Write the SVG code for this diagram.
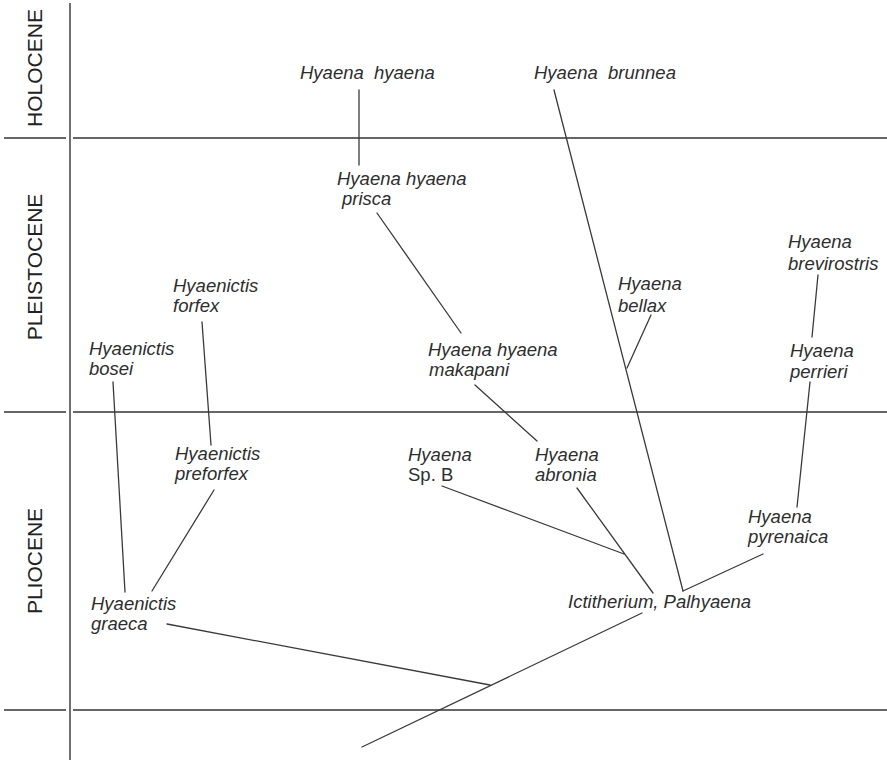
<svg xmlns="http://www.w3.org/2000/svg" width="887" height="760" viewBox="0 0 887 760">
<style>
.bg{fill:#ffffff}
.grid{stroke:#333;stroke-width:1.4;fill:none}
.con{stroke:#3a3a3a;stroke-width:1.3;fill:none;stroke-linecap:round}
.per{font-family:"Liberation Sans",Arial,sans-serif;font-size:21px;fill:#222;text-anchor:middle}
.lab{font-family:"Liberation Sans",Arial,sans-serif;font-size:18.5px;font-style:italic;fill:#2e2e2e;white-space:pre}
.up{font-style:normal}
</style>
<rect class="bg" x="0" y="0" width="887" height="760"/>
<g id="frame">
<line class="grid" x1="70" y1="3" x2="70" y2="760"/>
<line class="grid" x1="4" y1="138" x2="66" y2="138"/>
<line class="grid" x1="73" y1="138" x2="887" y2="138"/>
<line class="grid" x1="4" y1="412" x2="66" y2="412"/>
<line class="grid" x1="73" y1="412" x2="887" y2="412"/>
<line class="grid" x1="4" y1="710" x2="66" y2="710"/>
<line class="grid" x1="73" y1="710" x2="887" y2="710"/>
</g>
<g id="periods">
<text class="per" transform="translate(42,68) rotate(-90)">HOLOCENE</text>
<text class="per" transform="translate(42,267) rotate(-90)">PLEISTOCENE</text>
<text class="per" transform="translate(42,561) rotate(-90)">PLIOCENE</text>
</g>
<g id="connectors">
<line class="con" x1="359" y1="90" x2="359" y2="165"/>
<line class="con" x1="377" y1="213" x2="461" y2="333"/>
<line class="con" x1="475" y1="385" x2="537" y2="441"/>
<line class="con" x1="442" y1="486" x2="624" y2="554"/>
<line class="con" x1="577" y1="488" x2="653" y2="593"/>
<line class="con" x1="554" y1="90" x2="683" y2="591"/>
<line class="con" x1="651" y1="315" x2="627" y2="368"/>
<line class="con" x1="818" y1="275" x2="812" y2="337"/>
<line class="con" x1="810" y1="382" x2="797" y2="507"/>
<line class="con" x1="763" y1="554" x2="683" y2="591"/>
<line class="con" x1="202" y1="322" x2="211" y2="445"/>
<line class="con" x1="113" y1="382" x2="125" y2="592"/>
<line class="con" x1="214" y1="490" x2="152" y2="591"/>
<line class="con" x1="167" y1="624" x2="490" y2="685"/>
<line class="con" x1="642" y1="613" x2="362" y2="747"/>
</g>
<g id="n-hyaena-hyaena"><text class="lab" x="300" y="79">Hyaena  hyaena</text></g>
<g id="n-brunnea"><text class="lab" x="534" y="79">Hyaena  brunnea</text></g>
<g id="n-prisca"><text class="lab" x="337" y="185">Hyaena hyaena</text><text class="lab" x="342" y="205">prisca</text></g>
<g id="n-forfex"><text class="lab" x="173" y="292">Hyaenictis</text><text class="lab" x="173" y="312">forfex</text></g>
<g id="n-bellax"><text class="lab" x="618" y="290">Hyaena</text><text class="lab" x="618" y="312">bellax</text></g>
<g id="n-brevirostris"><text class="lab" x="788" y="248">Hyaena</text><text class="lab" x="788" y="270">brevirostris</text></g>
<g id="n-bosei"><text class="lab" x="89" y="355">Hyaenictis</text><text class="lab" x="89" y="375">bosei</text></g>
<g id="n-makapani"><text class="lab" x="428" y="356">Hyaena hyaena</text><text class="lab" x="429" y="376">makapani</text></g>
<g id="n-perrieri"><text class="lab" x="790" y="357">Hyaena</text><text class="lab" x="790" y="378">perrieri</text></g>
<g id="n-preforfex"><text class="lab" x="175" y="460">Hyaenictis</text><text class="lab" x="175" y="480">preforfex</text></g>
<g id="n-spb"><text class="lab" x="408" y="461">Hyaena</text><text class="lab up" x="408" y="481">Sp. B</text></g>
<g id="n-abronia"><text class="lab" x="535" y="461">Hyaena</text><text class="lab" x="535" y="481">abronia</text></g>
<g id="n-pyrenaica"><text class="lab" x="748" y="523">Hyaena</text><text class="lab" x="748" y="543">pyrenaica</text></g>
<g id="n-graeca"><text class="lab" x="91" y="610">Hyaenictis</text><text class="lab" x="91" y="630">graeca</text></g>
<g id="n-ictitherium"><text class="lab" x="568" y="608">Ictitherium, Palhyaena</text></g>
</svg>
